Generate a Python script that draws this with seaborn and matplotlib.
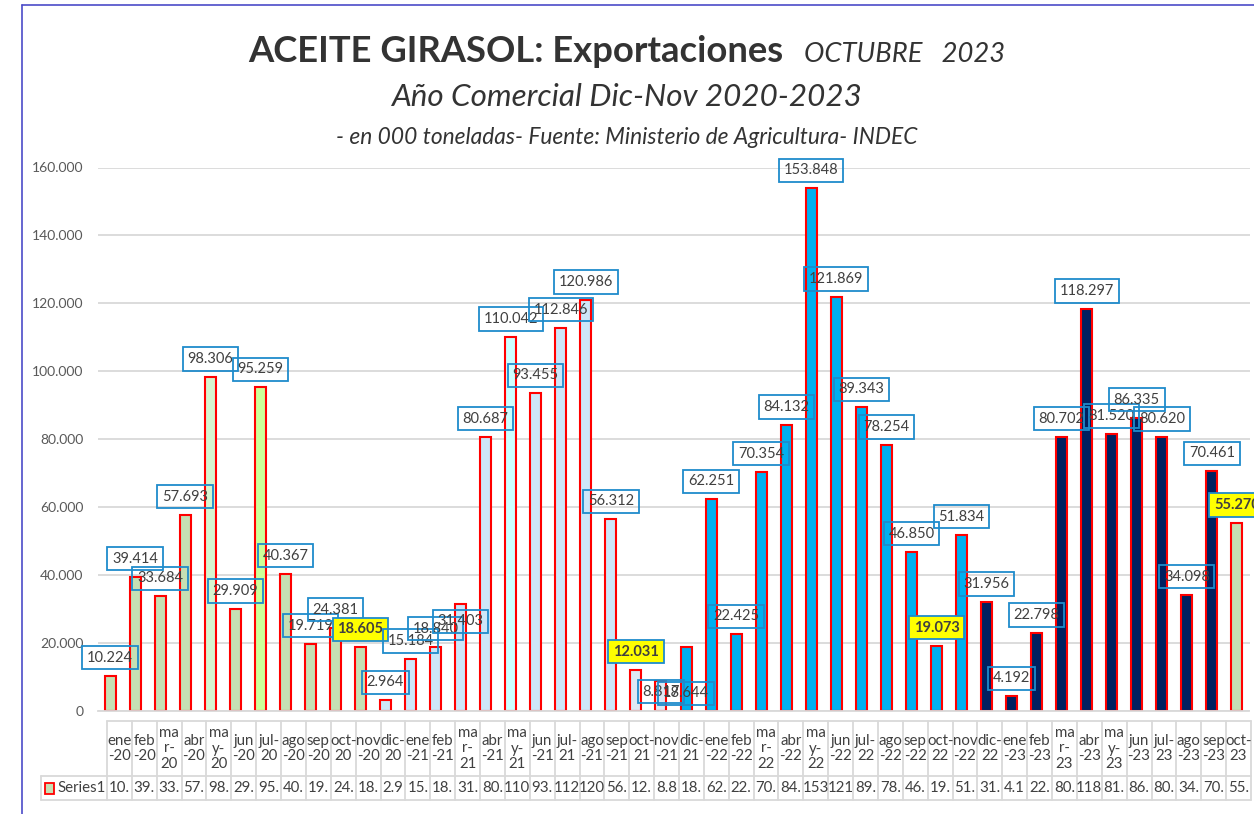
import matplotlib
matplotlib.use("Agg")
import matplotlib.pyplot as plt
import seaborn as sns
import pandas as pd
from matplotlib.lines import Line2D
from matplotlib.patches import Rectangle

# Data: monthly exports (tonnes), ene-20 .. oct-23
categories = [
    "ene-20", "feb-20", "mar-20", "abr-20", "may-20", "jun-20", "jul-20", "ago-20", "sep-20", "oct-20", "nov-20", "dic-20",
    "ene-21", "feb-21", "mar-21", "abr-21", "may-21", "jun-21", "jul-21", "ago-21", "sep-21", "oct-21", "nov-21", "dic-21",
    "ene-22", "feb-22", "mar-22", "abr-22", "may-22", "jun-22", "jul-22", "ago-22", "sep-22", "oct-22", "nov-22", "dic-22",
    "ene-23", "feb-23", "mar-23", "abr-23", "may-23", "jun-23", "jul-23", "ago-23", "sep-23", "oct-23",
]
values = [
    10224, 39414, 33684, 57693, 98306, 29909, 95259, 40367, 19719, 24381, 18605, 2964,
    15184, 18840, 31403, 80687, 110042, 93455, 112846, 120986, 56312, 12031, 8817, 18644,
    62251, 22425, 70354, 84132, 153848, 121869, 89343, 78254, 46850, 19073, 51834, 31956,
    4192, 22798, 80702, 118297, 81520, 86335, 80620, 34098, 70461, 55270,
]
highlighted = ["nov-20", "oct-21", "oct-22", "oct-23"]

W, H = 1254, 814

# colours by commercial year
def bar_color(i, c):
    if c == "may-20":
        return "#D6F5CF"
    if c == "jul-20":
        return "#CCFF99"
    if c == "may-21":
        return "#CCFFFF"
    if c in ("oct-21", "nov-21"):
        return "#DDE8F4"
    if i <= 10 or i == 45:
        return "#C5E0B4"
    if i <= 22:
        return "#CDE6F8"
    if i <= 34:
        return "#00B0F0"
    return "#002060"

colors = [bar_color(i, c) for i, c in enumerate(categories)]

def fmt(v):
    return f"{v:,}".replace(",", ".")

def wrap(c):
    m, y = c.split("-")
    if m in ("mar", "may"):
        return f"{m[:2]}\n{m[2]}-\n{y}"
    if m in ("jul", "oct", "dic"):
        return f"{m}-\n{y}"
    return f"{m}\n-{y}"

sns.set_style("white")
plt.rcParams["font.family"] = ["Lato", "DejaVu Sans"]

fig = plt.figure(figsize=(W / 100, H / 100), dpi=100)
ax = fig.add_axes([97.5 / W, (H - 710.5) / H, 1152 / W, 543 / H])

df = pd.DataFrame({"mes": categories, "ton": values})
sns.barplot(data=df, x="mes", y="ton", hue="mes", palette=dict(zip(categories, colors)),
            legend=False, width=0.44, edgecolor="#FF0000", linewidth=1.5,
            saturation=1, ax=ax)

ax.set_xlim(-0.5, 45.5)
ax.set_ylim(0, 160000)
ax.set_yticks(range(0, 160001, 20000))
ax.set_yticklabels([fmt(v) for v in range(0, 160001, 20000)], fontsize=10, color="#595959")
ax.set_xticks([])
ax.set_xlabel("")
ax.set_ylabel("")
ax.tick_params(axis="y", length=0, pad=10)
ax.yaxis.grid(True, color="#D9D9D9", lw=1.3)
ax.set_axisbelow(True)
for s in ["top", "right", "left"]:
    ax.spines[s].set_visible(False)
ax.spines["bottom"].set_color("#D9D9D9")
ax.spines["bottom"].set_linewidth(1.3)

# data labels (a few were moved by hand in the original)
label_dy = {"mar-21": -17.5, "nov-21": -11, "dic-21": -46}
for i, (c, v) in enumerate(zip(categories, values)):
    hl = c in highlighted
    dy = label_dy.get(c, 18) * 0.72
    ax.annotate(fmt(v), xy=(i, v), xytext=(0, dy), textcoords="offset points",
                ha="center", va="center", fontsize=10.5, color="#404040",
                fontweight="bold" if hl else "normal", annotation_clip=False,
                bbox=dict(boxstyle="square,pad=0.32", fc="#FFFF00" if hl else "none",
                          ec="#1F8BCB", lw=1.3))

# data table under the axis
x0 = (107 - 97.5) / 1152
x1 = (1251 - 97.5) / 1152
xl = (40.7 - 97.5) / 1152
y_top = (710.5 - 721) / 543
y_sep = (710.5 - 776) / 543
y_bot = (710.5 - 800) / 543
n = len(categories)
cw = (x1 - x0) / n
line_kw = dict(transform=ax.transAxes, clip_on=False, color="#D9D9D9", lw=1.3)
ax.plot([x0, x1], [y_top, y_top], **line_kw)
ax.plot([xl, x1], [y_sep, y_sep], **line_kw)
ax.plot([xl, x1], [y_bot, y_bot], **line_kw)
ax.plot([xl, xl], [y_sep, y_bot], **line_kw)
for k in range(n + 1):
    xx = x0 + k * cw
    ax.plot([xx, xx], [y_top, y_bot], **line_kw)
for k, (c, v) in enumerate(zip(categories, values)):
    xc = x0 + (k + 0.5) * cw
    ax.text(xc, (y_top + y_sep) / 2, wrap(c), transform=ax.transAxes, ha="center",
            va="center", fontsize=10.8, color="#404040", linespacing=1.1)
    ax.text(xc, (y_sep + y_bot) / 2, fmt(v)[:3], transform=ax.transAxes, ha="center",
            va="center", fontsize=10.8, color="#404040")
ax.add_patch(Rectangle(((45 - 97.5) / 1152, (710.5 - 794) / 543), 9 / 1152, 11 / 543,
                       transform=ax.transAxes, clip_on=False, fc="#C5E0B4", ec="#FF0000", lw=1.3))
ax.text((57 - 97.5) / 1152, (y_sep + y_bot) / 2, "Series1", transform=ax.transAxes,
        ha="left", va="center", fontsize=10.8, color="#404040")

# titles
fig.text(783 / W, 1 - 62 / H, "ACEITE GIRASOL: Exportaciones", ha="right", va="baseline",
         fontsize=26.2, fontweight="bold", color="#333333")
fig.text(804 / W, 1 - 62 / H, "OCTUBRE   2023", ha="left", va="baseline",
         fontsize=19.7, style="italic", color="#333333")
fig.text(626 / W, 1 - 106 / H, "Año Comercial Dic-Nov 2020-2023", ha="center", va="baseline",
         fontsize=22.6, style="italic", color="#333333")
fig.text(627 / W, 1 - 144 / H, "- en 000 toneladas- Fuente: Ministerio de Agricultura- INDEC",
         ha="center", va="baseline", fontsize=16.4, style="italic", color="#333333")

# chart frame
fig.add_artist(Line2D([22 / W, 22 / W], [0, 1 - 5 / H], transform=fig.transFigure, color="#4B4BC8", lw=1.2))
fig.add_artist(Line2D([22 / W, 1], [1 - 5 / H, 1 - 5 / H], transform=fig.transFigure, color="#4B4BC8", lw=1.2))

fig.savefig("out.png", dpi=100)
